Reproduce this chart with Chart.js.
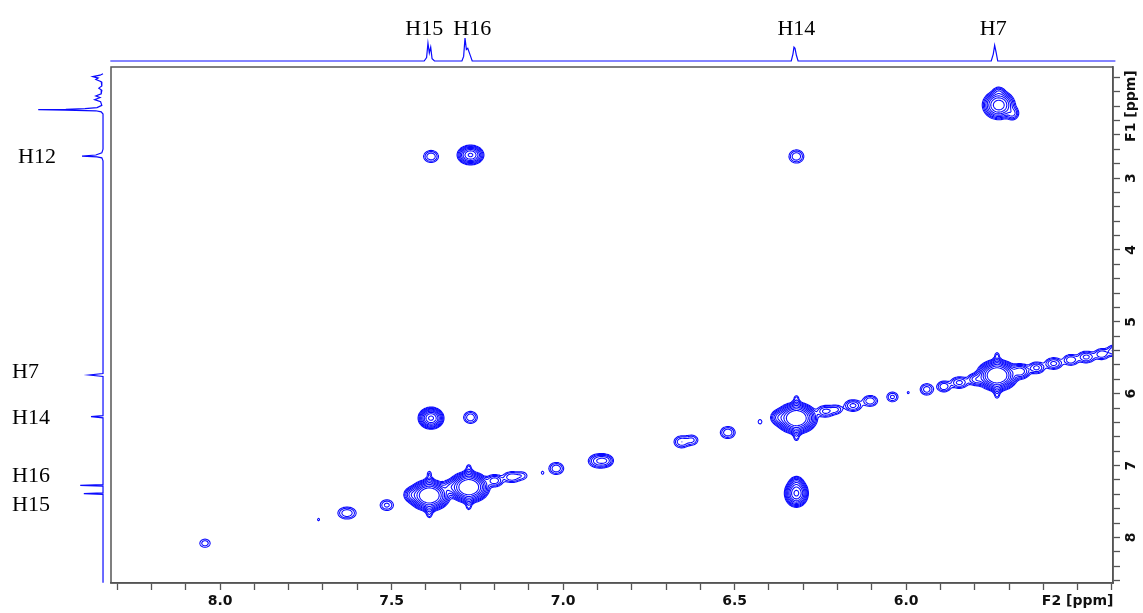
<!DOCTYPE html>
<html>
<head>
<meta charset="utf-8">
<script src="https://cdn.jsdelivr.net/npm/chart.js@4.4.1/dist/chart.umd.min.js"></script>
<style>
  html, body { margin: 0; padding: 0; background: #fff; }
  canvas { display: block; }
</style>
</head>
<body>
<canvas id="cosy" width="1143" height="613"></canvas>
<script>
// ---- data (ppm) ----
// 2D peaks: [F2 ppm, F1 ppm, amplitude, width F2, width F1]
const diagonalPeaks = [
  [8.044, 8.08, 2.2, 0.012, 0.045],
  [7.713, 7.75, 1.15, 0.006, 0.035],
  [7.63, 7.66, 4, 0.016, 0.05],
  [7.514, 7.55, 3, 0.013, 0.05],
  // H15
  [7.39, 7.415, 120, 0.02, 0.072],
  [7.44, 7.405, 7, 0.012, 0.05],
  [7.39, 7.24, 5, 0.007, 0.05],
  [7.39, 7.59, 5, 0.007, 0.05],
  [7.39, 7.11, 1.6, 0.005, 0.03],
  [7.39, 7.69, 1.6, 0.005, 0.03],
  [7.33, 7.30, 6, 0.013, 0.05],
  // H16
  [7.275, 7.30, 120, 0.02, 0.072],
  [7.275, 7.13, 5, 0.007, 0.05],
  [7.275, 7.47, 5, 0.007, 0.05],
  [7.275, 7.02, 1.6, 0.005, 0.03],
  [7.275, 7.58, 1.6, 0.005, 0.03],
  [7.20, 7.21, 6, 0.013, 0.045],
  [7.15, 7.16, 4, 0.015, 0.045],
  [7.12, 7.14, 2, 0.012, 0.04],
  [7.06, 7.10, 1.3, 0.005, 0.03],
  [7.02, 7.04, 4, 0.013, 0.05],
  [6.895, 6.935, 7, 0.016, 0.05],
  [6.875, 6.93, 4, 0.012, 0.045],
  [6.655, 6.67, 4, 0.013, 0.05],
  [6.625, 6.645, 3, 0.012, 0.045],
  [6.52, 6.54, 4, 0.013, 0.05],
  [6.426, 6.39, 1.5, 0.006, 0.035],
  [6.37, 6.33, 8, 0.012, 0.05],
  // H14
  [6.32, 6.34, 120, 0.02, 0.072],
  [6.32, 6.17, 5, 0.007, 0.05],
  [6.32, 6.51, 5, 0.007, 0.05],
  [6.32, 6.06, 1.6, 0.005, 0.03],
  [6.32, 6.62, 1.6, 0.005, 0.03],
  [6.235, 6.245, 5, 0.014, 0.045],
  [6.205, 6.22, 3, 0.012, 0.04],
  [6.155, 6.165, 5, 0.014, 0.045],
  [6.105, 6.10, 4, 0.013, 0.045],
  [6.04, 6.045, 3, 0.011, 0.045],
  [5.994, 5.985, 1.2, 0.005, 0.03],
  [5.94, 5.94, 3.5, 0.012, 0.05],
  [5.89, 5.90, 4, 0.012, 0.045],
  [5.845, 5.845, 5, 0.014, 0.045],
  [5.795, 5.80, 6, 0.014, 0.045],
  // H7
  [5.735, 5.745, 120, 0.02, 0.072],
  [5.735, 5.58, 5, 0.007, 0.05],
  [5.735, 5.92, 5, 0.007, 0.05],
  [5.735, 5.46, 1.6, 0.005, 0.03],
  [5.735, 6.03, 1.6, 0.005, 0.03],
  [5.668, 5.69, 10, 0.014, 0.05],
  [5.62, 5.64, 5, 0.013, 0.045],
  [5.57, 5.58, 5, 0.014, 0.045],
  [5.52, 5.53, 4, 0.013, 0.045],
  [5.475, 5.49, 5, 0.014, 0.045],
  [5.43, 5.45, 4, 0.013, 0.045],
  [5.39, 5.40, 5, 0.014, 0.045]
];

const crossPeaks = [
  [5.73, 1.985, 40, 0.0177, 0.075],
  [5.73, 1.80, 3, 0.01, 0.04],
  [5.69, 2.10, 5, 0.01, 0.05],
  [7.385, 2.70, 4, 0.013, 0.05],
  [7.27, 2.68, 30, 0.015, 0.053],
  [6.32, 2.70, 4, 0.013, 0.055],
  [7.385, 6.34, 50, 0.0135, 0.055],
  [7.27, 6.33, 4, 0.012, 0.05],
  [6.32, 7.385, 50, 0.0125, 0.07],
  [6.32, 7.25, 6, 0.01, 0.05]
];

// contour levels
const contourLevels = [1, 1.6, 2.56, 4.1, 6.55, 10.5, 16.8, 26.8, 42.9];

// 1D projection on top (F2)
const topPpm = [8.32, 7.405, 7.398, 7.394, 7.39, 7.386, 7.382, 7.375,
  7.295, 7.29, 7.286, 7.282, 7.278, 7.272, 7.265,
  6.335, 6.33, 6.327, 6.324, 6.32, 6.315,
  5.752, 5.746, 5.742, 5.738, 5.733, 5.39];
const topInt = [0, 0, 0.15, 0.78, 0.35, 0.6, 0.1, 0,
  0, 0.2, 1.0, 0.5, 0.55, 0.3, 0,
  0, 0.3, 0.6, 0.55, 0.25, 0,
  0, 0.3, 0.68, 0.4, 0, 0];

// 1D projection on the left (F1)
const leftPpm = [1.55, 1.57, 1.59, 1.61, 1.63, 1.66, 1.72, 1.75, 1.78,
  1.83, 1.86, 1.88, 1.91, 1.94, 1.99, 2.02, 2.035, 2.045, 2.05, 2.055, 2.065, 2.08, 2.11,
  2.6, 2.65, 2.68, 2.695, 2.705, 2.72, 2.76,
  5.72, 5.74, 5.76, 6.305, 6.32, 6.335,
  7.265, 7.275, 7.285, 7.38, 7.39, 7.40, 8.63];
const leftInt = [0, 0.05, 0.17, 0.08, 0.12, 0.03, 0.02, 0.07, 0.02,
  0.03, 0.12, 0.05, 0.14, 0.04, 0.02, 0.1, 0.3, 0.62, 1.08, 0.62, 0.12, 0.03, 0,
  0, 0.02, 0.12, 0.35, 0.1, 0.02, 0,
  0, 0.23, 0, 0, 0.2, 0,
  0, 0.38, 0, 0, 0.32, 0, 0];

// tick labels and annotations
const xTickLabels = ['8.0', '7.5', '7.0', '6.5', '6.0'];
const yTickLabels = [3, 4, 5, 6, 7, 8];
const topLabels = ['H15', 'H16', 'H14', 'H7'];
const topLabelPpm = [7.405, 7.265, 6.32, 5.746];
const leftLabels = ['H12', 'H7', 'H14', 'H16', 'H15'];
const leftLabelPpm = [2.71, 5.70, 6.34, 7.145, 7.55];

const BLUE = '#0a0aff';
const AXIS = '#555';
const tickFont = "'DejaVu Sans', sans-serif";
const labelFont = "22px 'Liberation Serif', 'DejaVu Serif', serif";

// marching squares contour of the summed peaks, drawn through the chart scales
const contourPlugin = {
  id: 'contours',
  afterDatasetsDraw(chart) {
    const { ctx, chartArea: a, scales } = chart;
    const xs = scales.x, ys = scales.y;
    const ox = Math.floor(a.left), oy = Math.floor(a.top);
    const W = Math.ceil(a.right) - ox + 1, H = Math.ceil(a.bottom) - oy + 1;
    const grid = new Float32Array(W * H);
    const px = new Float64Array(W), py = new Float64Array(H);
    for (let i = 0; i < W; i++) px[i] = xs.getValueForPixel(ox + i);
    for (let j = 0; j < H; j++) py[j] = ys.getValueForPixel(oy + j);
    const gx = new Float64Array(W), gy = new Float64Array(H);

    for (const [cx, cy, amp, sx, sy] of diagonalPeaks.concat(crossPeaks)) {
      let i0 = W, i1 = -1, j0 = H, j1 = -1;
      for (let i = 0; i < W; i++) {
        const d = (px[i] - cx) / sx;
        gx[i] = Math.exp(-0.5 * d * d);
        if (d * d < 30) { if (i < i0) i0 = i; i1 = i; }
      }
      for (let j = 0; j < H; j++) {
        const d = (py[j] - cy) / sy;
        gy[j] = Math.exp(-0.5 * d * d);
        if (d * d < 30) { if (j < j0) j0 = j; j1 = j; }
      }
      for (let j = j0; j <= j1; j++) {
        const f = amp * gy[j], row = j * W;
        for (let i = i0; i <= i1; i++) grid[row + i] += f * gx[i];
      }
    }

    ctx.save();
    ctx.beginPath();
    ctx.rect(a.left, a.top, a.right - a.left, a.bottom - a.top);
    ctx.clip();
    ctx.strokeStyle = BLUE;
    ctx.lineWidth = 1.1;
    for (const L of contourLevels) {
      ctx.beginPath();
      const seg = (x1, y1, x2, y2) => {
        ctx.moveTo(ox + x1, oy + y1);
        ctx.lineTo(ox + x2, oy + y2);
      };
      for (let j = 0; j < H - 1; j++) {
        for (let i = 0; i < W - 1; i++) {
          const va = grid[j * W + i], vb = grid[j * W + i + 1];
          const vc = grid[(j + 1) * W + i + 1], vd = grid[(j + 1) * W + i];
          const idx = (va > L ? 8 : 0) | (vb > L ? 4 : 0) | (vc > L ? 2 : 0) | (vd > L ? 1 : 0);
          if (idx === 0 || idx === 15) continue;
          const tX = i + (L - va) / (vb - va), tY = j;
          const rX = i + 1, rY = j + (L - vb) / (vc - vb);
          const bX = i + (L - vd) / (vc - vd), bY = j + 1;
          const lX = i, lY = j + (L - va) / (vd - va);
          switch (idx) {
            case 1: case 14: seg(lX, lY, bX, bY); break;
            case 2: case 13: seg(bX, bY, rX, rY); break;
            case 3: case 12: seg(lX, lY, rX, rY); break;
            case 4: case 11: seg(tX, tY, rX, rY); break;
            case 6: case 9: seg(tX, tY, bX, bY); break;
            case 7: case 8: seg(tX, tY, lX, lY); break;
            case 5: seg(tX, tY, rX, rY); seg(lX, lY, bX, bY); break;
            case 10: seg(tX, tY, lX, lY); seg(bX, bY, rX, rY); break;
          }
        }
      }
      ctx.stroke();
    }
    ctx.restore();
  }
};

// frame, rotated F1 labels and peak annotations
const decorPlugin = {
  id: 'decor',
  afterDraw(chart) {
    const { ctx, chartArea: a, scales } = chart;
    ctx.save();
    ctx.strokeStyle = AXIS;
    ctx.lineWidth = 1.5;
    ctx.strokeRect(a.left, a.top, a.right - a.left, a.bottom - a.top);

    ctx.fillStyle = '#111';
    ctx.font = 'bold 14px ' + tickFont;
    ctx.textAlign = 'center';
    ctx.textBaseline = 'middle';
    const lx = a.right + 18;
    const rot = (txt, v) => {
      ctx.save();
      ctx.translate(lx, scales.y.getPixelForValue(v));
      ctx.rotate(-Math.PI / 2);
      ctx.fillText(txt, 0, 0);
      ctx.restore();
    };
    yTickLabels.forEach(v => rot(String(v), v));
    rot('F1 [ppm]', 2);

    ctx.fillStyle = '#000';
    ctx.font = labelFont;
    ctx.textBaseline = 'alphabetic';
    topLabels.forEach((t, i) => {
      ctx.fillText(t, scales.x.getPixelForValue(topLabelPpm[i]), 35);
    });
    ctx.textAlign = 'left';
    ctx.textBaseline = 'middle';
    leftLabels.forEach((t, i) => {
      ctx.fillText(t, t === 'H12' ? 18 : 12, scales.y.getPixelForValue(leftLabelPpm[i]));
    });
    ctx.restore();
  }
};

new Chart(document.getElementById('cosy'), {
  type: 'scatter',
  data: {
    datasets: [
      {
        data: topPpm.map((v, i) => ({ x: v, y: topInt[i] })),
        xAxisID: 'x', yAxisID: 'yTop',
        showLine: true, pointRadius: 0, borderWidth: 1.2,
        borderColor: BLUE, clip: false, tension: 0
      },
      {
        data: leftPpm.map((v, i) => ({ x: leftInt[i], y: v })),
        xAxisID: 'xLeft', yAxisID: 'y',
        showLine: true, pointRadius: 0, borderWidth: 1.2,
        borderColor: BLUE, clip: false, tension: 0
      }
    ]
  },
  options: {
    responsive: false,
    animation: false,
    devicePixelRatio: 1,
    layout: { padding: { left: 111, top: 67, right: 0, bottom: 0 } },
    plugins: { legend: { display: false }, tooltip: { enabled: false } },
    scales: {
      x: {
        type: 'linear', position: 'bottom', reverse: true,
        min: 5.397, max: 8.318,
        ticks: {
          stepSize: 0.1, includeBounds: false, autoSkip: false,
          maxRotation: 0, minRotation: 0, padding: 3, color: '#111',
          font: { family: tickFont, size: 14, weight: 'bold' },
          callback(value) {
            const s = value.toFixed(1);
            if (xTickLabels.includes(s)) return s;
            if (s === '5.5') return 'F2 [ppm]';
            return '';
          }
        },
        grid: { drawOnChartArea: false, tickLength: 7, tickColor: AXIS, tickWidth: 1.3 },
        border: { color: AXIS, width: 1.5 },
        afterFit(s) { s.height = 30; }
      },
      y: {
        type: 'linear', position: 'right', reverse: true,
        min: 1.456, max: 8.633,
        ticks: { stepSize: 0.2, includeBounds: false, autoSkip: false, callback: () => '' },
        grid: { drawOnChartArea: false, tickLength: 7, tickColor: AXIS, tickWidth: 1.3 },
        border: { color: AXIS, width: 1.5 },
        afterFit(s) { s.width = 30; }
      },
      yTop: { axis: 'y', type: 'linear', position: 'left', display: false, min: -22.696, max: -0.261 },
      xLeft: { axis: 'x', type: 'linear', position: 'bottom', display: false, reverse: true, min: -16.833, max: -0.133 }
    }
  },
  plugins: [contourPlugin, decorPlugin]
});
</script>
</body>
</html>
